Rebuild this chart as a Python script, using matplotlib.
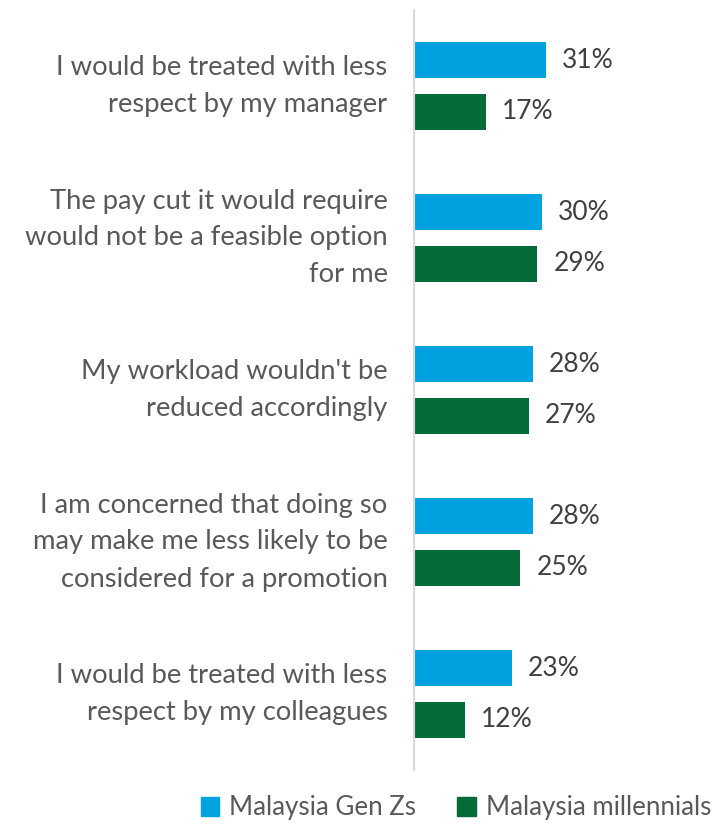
import matplotlib
matplotlib.use("Agg")
import matplotlib.pyplot as plt
import numpy as np
from matplotlib.patches import Patch

plt.rcParams['font.family'] = ['Lato', 'DejaVu Sans']

categories = [
    "I would be treated with less\nrespect by my manager",
    "The pay cut it would require\nwould not be a feasible option\nfor me",
    "My workload wouldn't be\nreduced accordingly",
    "I am concerned that doing so\nmay make me less likely to be\nconsidered for a promotion",
    "I would be treated with less\nrespect by my colleagues",
]
gen_z = [31, 30, 28, 28, 23]
millennials = [17, 29, 27, 25, 12]
series_names = ["Malaysia Gen Zs", "Malaysia millennials"]
colors = ["#00A3E0", "#046A38"]

W, H = 717, 824
fig = plt.figure(figsize=(W/100, H/100), dpi=100)
ax = fig.add_axes([414/W, 1 - 770/H, (717-414)/W, 760/H])

y = np.arange(len(categories))
off = 0.168
h = 0.237
ax.barh(y - off, gen_z, height=h, color=colors[0])
ax.barh(y + off, millennials, height=h, color=colors[1])
ax.set_ylim(len(categories) - 0.5, -0.5)
ax.set_xlim(0, 71.2)

for vals, sgn in ((gen_z, -1), (millennials, 1)):
    for i, v in enumerate(vals):
        ax.annotate(f"{v}%", (v, i + sgn*off), xytext=(16, 0), textcoords='offset pixels',
                    va='center', ha='left', fontsize=19, color='#404040')

ax.set_yticks(y)
ax.set_yticklabels(categories, fontsize=19.7, color='#595959', linespacing=1.6, va='center')
ax.tick_params(axis='y', length=0, pad=19)
ax.set_xticks([])
for s in ['top', 'right', 'bottom']:
    ax.spines[s].set_visible(False)
ax.spines['left'].set_color('#D9D9D9')
ax.spines['left'].set_linewidth(1.5)

handles = [Patch(color=c) for c in colors]
fig.legend(handles, series_names, loc='center', bbox_to_anchor=(456/W, 1 - 808/H),
           ncol=2, frameon=False, fontsize=18.6, handlelength=0.7, handleheight=0.7,
           handletextpad=0.4, columnspacing=1.6, labelcolor='#595959')

fig.savefig("out.png", dpi=100)
